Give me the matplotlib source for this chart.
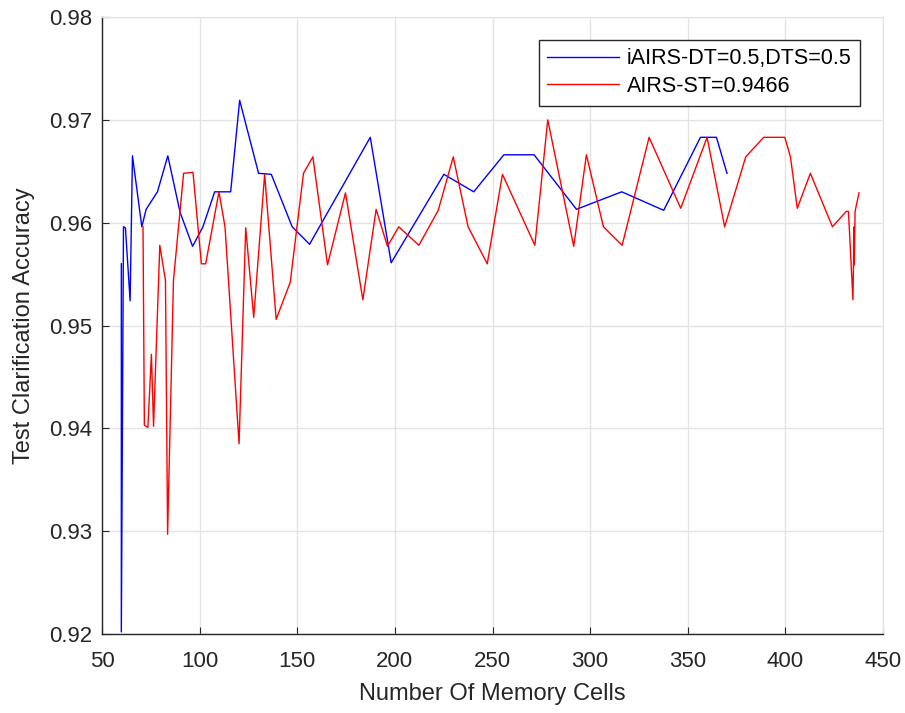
import numpy as np
import matplotlib.pyplot as plt

plt.rcParams['font.family'] = ['Liberation Sans', 'DejaVu Sans']

# iAIRS-DT=0.5,DTS=0.5 (blue)
iairs_cells = [59.9, 59.9, 61.0, 62.0, 64.4, 65.6, 70.4, 72.6, 78.4, 83.7, 90.0, 96.4,
               101.7, 107.7, 115.9, 120.5, 130.2, 136.7, 147.4, 156.3, 187.4, 198.1,
               225.1, 240.4, 255.8, 271.3, 293.0, 316.2, 337.7, 356.5, 364.7, 370.1]
iairs_acc = [0.9560, 0.9202, 0.9596, 0.9595, 0.9524, 0.9665, 0.9596, 0.9613, 0.9630, 0.9665,
             0.9610, 0.9577, 0.9596, 0.9630, 0.9630, 0.9719, 0.9648, 0.9647, 0.9596, 0.9579,
             0.9683, 0.9561, 0.9647, 0.9630, 0.9666, 0.9666, 0.9613, 0.9630, 0.9612, 0.9683,
             0.9683, 0.9648]

# AIRS-ST=0.9466 (red)
airs_cells = [71.0, 71.7, 73.5, 75.3, 76.4, 79.6, 82.5, 83.6, 86.6, 91.8, 96.6, 100.9, 103.1,
              109.9, 113.0, 120.2, 123.6, 127.7, 133.3, 139.2, 146.4, 153.2, 158.0, 165.5,
              174.7, 183.6, 190.4, 196.2, 202.0, 212.3, 222.2, 229.9, 237.5, 247.3, 255.1,
              271.7, 278.3, 291.6, 298.1, 306.8, 316.4, 330.2, 346.4, 359.9, 368.9, 379.7,
              388.9, 399.7, 402.6, 406.1, 412.8, 424.1, 431.2, 432.3, 434.6, 435.2, 435.3,
              435.7, 437.7]
airs_acc = [0.9596, 0.9403, 0.9401, 0.9472, 0.9402, 0.9578, 0.9544, 0.9297, 0.9544, 0.9648,
            0.9649, 0.9560, 0.9560, 0.9630, 0.9596, 0.9385, 0.9595, 0.9508, 0.9647, 0.9506,
            0.9542, 0.9648, 0.9664, 0.9559, 0.9629, 0.9525, 0.9613, 0.9577, 0.9596, 0.9578,
            0.9612, 0.9664, 0.9596, 0.9560, 0.9647, 0.9578, 0.9700, 0.9577, 0.9666, 0.9596,
            0.9578, 0.9683, 0.9614, 0.9683, 0.9596, 0.9664, 0.9683, 0.9683, 0.9664, 0.9614,
            0.9648, 0.9596, 0.9611, 0.9611, 0.9525, 0.9596, 0.9559, 0.9611, 0.9629]

fig = plt.figure(figsize=(9.05, 7.13), dpi=100)
ax = fig.add_axes([102 / 905, 1 - 634 / 713, 781 / 905, 617 / 713])

ax.plot(iairs_cells, iairs_acc, color='#0000ff', lw=1.0, label='iAIRS-DT=0.5,DTS=0.5')
ax.plot(airs_cells, airs_acc, color='#ff0000', lw=1.0, label='AIRS-ST=0.9466')

ax.set_xlim(50, 450)
ax.set_ylim(0.92, 0.98)
ax.set_xticks(np.arange(50, 451, 50))
ax.set_yticks(np.arange(0.92, 0.9801, 0.01))
ax.set_yticklabels(['0.92', '0.93', '0.94', '0.95', '0.96', '0.97', '0.98'])

gridc = '#e3e3e3'
ax.grid(True, color=gridc, lw=1.0)
ax.set_axisbelow(True)
for s in ['top', 'right']:
    ax.spines[s].set_color(gridc)
for s in ['left', 'bottom']:
    ax.spines[s].set_color('#262626')
    ax.spines[s].set_linewidth(1.0)
ax.tick_params(direction='in', length=5, colors='#262626', labelsize=16)
ax.tick_params(axis='x', pad=12)
ax.tick_params(axis='y', pad=7)

ax.set_xlabel('Number Of Memory Cells', fontsize=17, color='#262626', labelpad=8)
ax.set_ylabel('Test Clarification Accuracy', fontsize=17, color='#262626', labelpad=10)

leg = ax.legend(loc='upper right', bbox_to_anchor=(0.9705, 0.963), fontsize=15.5,
                handlelength=3.35, handletextpad=0.33, labelspacing=0.3, borderpad=0.4,
                fancybox=False, framealpha=1, borderaxespad=0)
leg.get_frame().set_edgecolor('#262626')
leg.get_frame().set_linewidth(1.0)
for t in leg.get_texts():
    t.set_color('#000000')

fig.savefig('out.png', dpi=100)
